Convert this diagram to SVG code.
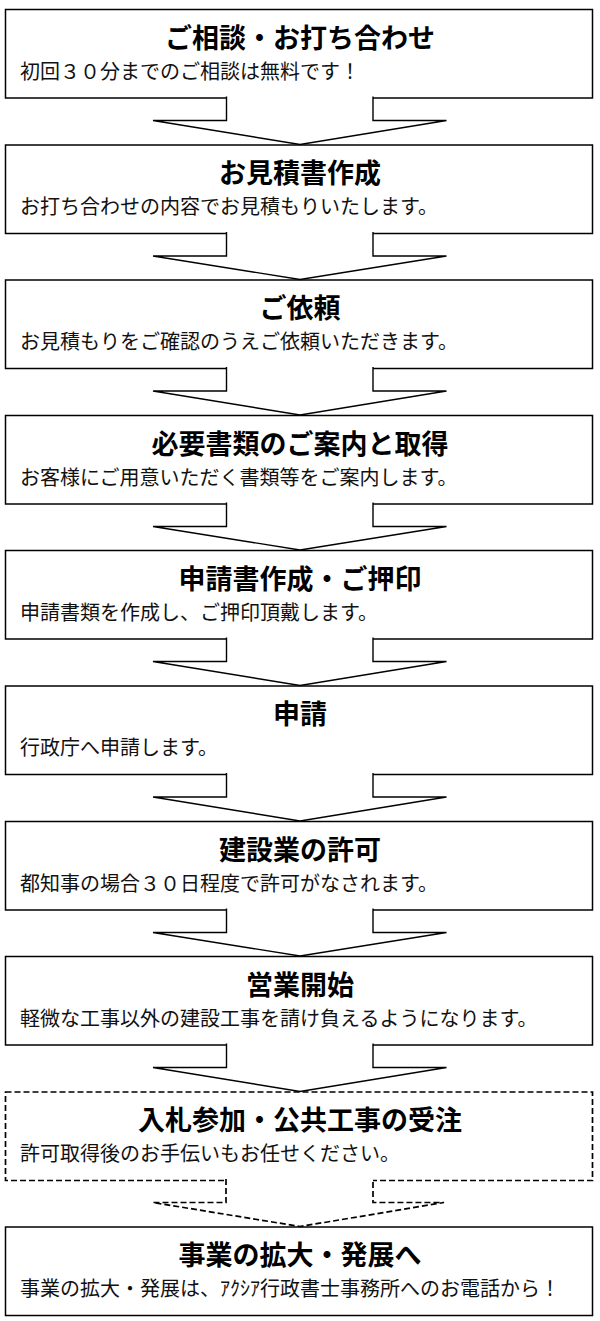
<svg xmlns="http://www.w3.org/2000/svg" width="600" height="1321" viewBox="0 0 600 1321">
<style>
.box{fill:#fff;stroke:#000;stroke-width:1.5}
.dbox{fill:#fff;stroke:#000;stroke-width:1.7;stroke-dasharray:6 3}
.arr{fill:#fff;stroke:#000;stroke-width:1.4;stroke-linejoin:miter}
.darr{fill:#fff;stroke:#000;stroke-width:1.7;stroke-dasharray:6 3}
.t{font-family:"Noto Sans CJK JP","Noto Sans CJK SC",sans-serif;font-weight:bold;font-size:27px;text-anchor:middle;fill:#000}
.s{font-family:"Noto Sans CJK JP","Noto Sans CJK SC",sans-serif;font-size:20px;fill:#111}
</style>
<rect width="600" height="1321" fill="#fff"/>
<g id="nodes">
<g id="n1" transform="translate(0,9.5)"><rect class="box" x="5.5" y="0" width="587" height="88.5"/><text class="t" x="300" y="38">ご相談・お打ち合わせ</text><text class="s" x="20" y="69">初回３０分までのご相談は無料です！</text></g>
<g id="n2" transform="translate(0,145)"><rect class="box" x="5.5" y="0" width="587" height="88.5"/><text class="t" x="300" y="38">お見積書作成</text><text class="s" x="20" y="69">お打ち合わせの内容でお見積もりいたします。</text></g>
<g id="n3" transform="translate(0,280)"><rect class="box" x="5.5" y="0" width="587" height="88.5"/><text class="t" x="300" y="38">ご依頼</text><text class="s" x="20" y="69">お見積もりをご確認のうえご依頼いただきます。</text></g>
<g id="n4" transform="translate(0,415.5)"><rect class="box" x="5.5" y="0" width="587" height="88.5"/><text class="t" x="300" y="38">必要書類のご案内と取得</text><text class="s" x="20" y="69">お客様にご用意いただく書類等をご案内します。</text></g>
<g id="n5" transform="translate(0,550.5)"><rect class="box" x="5.5" y="0" width="587" height="88.5"/><text class="t" x="300" y="38">申請書作成・ご押印</text><text class="s" x="20" y="69">申請書類を作成し、ご押印頂戴します。</text></g>
<g id="n6" transform="translate(0,686)"><rect class="box" x="5.5" y="0" width="587" height="88.5"/><text class="t" x="300" y="38">申請</text><text class="s" x="20" y="69">行政庁へ申請します。</text></g>
<g id="n7" transform="translate(0,821.5)"><rect class="box" x="5.5" y="0" width="587" height="88.5"/><text class="t" x="300" y="38">建設業の許可</text><text class="s" x="20" y="69">都知事の場合３０日程度で許可がなされます。</text></g>
<g id="n8" transform="translate(0,956.5)"><rect class="box" x="5.5" y="0" width="587" height="88.5"/><text class="t" x="300" y="38">営業開始</text><text class="s" x="20" y="69">軽微な工事以外の建設工事を請け負えるようになります。</text></g>
<g id="n9" transform="translate(0,1092)"><rect class="dbox" x="5.5" y="0" width="587" height="88.5"/><text class="t" x="300" y="38">入札参加・公共工事の受注</text><text class="s" x="20" y="69">許可取得後のお手伝いもお任せください。</text></g>
<g id="n10" transform="translate(0,1227)"><rect class="box" x="5.5" y="0" width="587" height="88.5"/><text class="t" x="300" y="38">事業の拡大・発展へ</text><text class="s" x="20" y="69">事業の拡大・発展は、ｱｸｼｱ行政書士事務所へのお電話から！</text></g>
</g>
<g id="connectors">
<path class="arr" d="M226.5,96.5 V120.5 H153 L300,144.5 L446.5,120.5 H373 V96.5"/>
<path class="arr" d="M226.5,232 V256 H153 L300,279.5 L446.5,256 H373 V232"/>
<path class="arr" d="M226.5,367 V391 H153 L300,415 L446.5,391 H373 V367"/>
<path class="arr" d="M226.5,502.5 V526.5 H153 L300,550 L446.5,526.5 H373 V502.5"/>
<path class="arr" d="M226.5,637.5 V661.5 H153 L300,685.5 L446.5,661.5 H373 V637.5"/>
<path class="arr" d="M226.5,773 V797 H153 L300,821 L446.5,797 H373 V773"/>
<path class="arr" d="M226.5,908.5 V932.5 H153 L300,956 L446.5,932.5 H373 V908.5"/>
<path class="arr" d="M226.5,1043.5 V1067.5 H153 L300,1091.5 L446.5,1067.5 H373 V1043.5"/>
<path class="darr" d="M226,1179 V1202.5 H153 L300,1226.5 L444,1202.5 H373 V1179"/>
</g>
</svg>
